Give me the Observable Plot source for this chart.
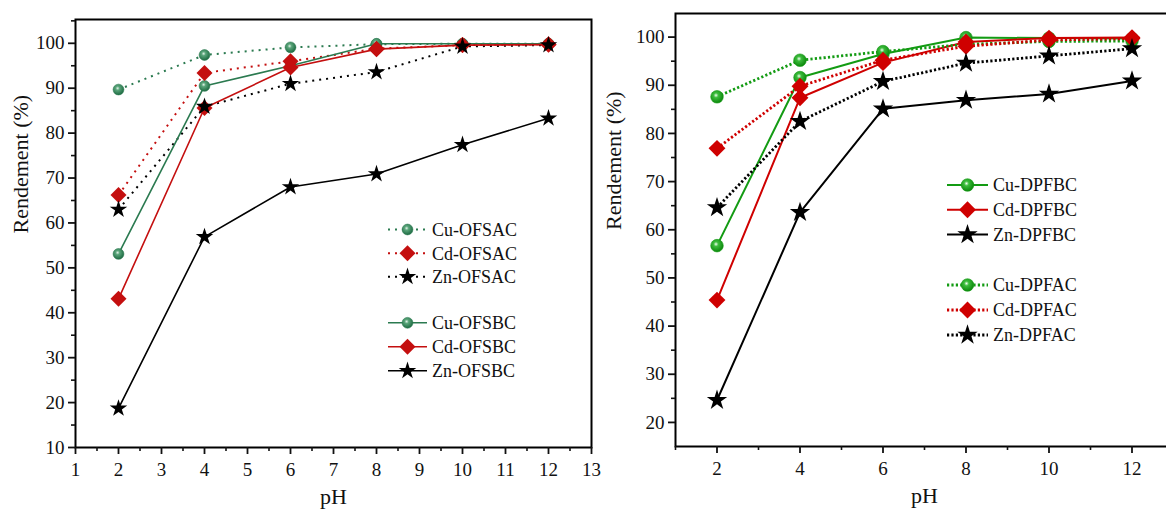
<!DOCTYPE html>
<html>
<head>
<meta charset="utf-8">
<script src="https://cdn.jsdelivr.net/npm/d3@7"></script>
<script src="https://cdn.jsdelivr.net/npm/@observablehq/plot@0.6"></script>
<style>
  html, body { margin: 0; padding: 0; background: #fff; overflow: hidden; }
  #wrap { position: relative; width: 1166px; height: 512px; overflow: hidden; background: #fff; }
  #wrap > svg { position: absolute; top: 0; overflow: visible; }
</style>
</head>
<body>
<div id="wrap"></div>
<script>
// ---- data: removal yield (%) versus pH ----
const pH = [2, 4, 6, 8, 10, 12];

// OFS adsorbents
const cuOFSAC = [89.7, 97.4, 99.1, 99.8, 99.9, 99.9];
const cdOFSAC = [66.2, 93.4, 96.0, 98.8, 99.6, 99.8];
const znOFSAC = [63.0, 85.9, 91.0, 93.6, 99.3, 99.6];
const cuOFSBC = [53.1, 90.5, 95.0, 99.9, 99.9, 99.9];
const cdOFSBC = [43.1, 85.6, 94.6, 98.7, 99.6, 99.7];
const znOFSBC = [18.7, 56.9, 68.0, 70.9, 77.4, 83.3];

// DPF adsorbents
const cuDPFAC = [87.6, 95.2, 97.0, 98.5, 99.1, 99.2];
const cdDPFAC = [76.9, 89.8, 95.2, 98.1, 99.4, 99.7];
const znDPFAC = [64.6, 82.5, 90.8, 94.6, 96.1, 97.6];
const cuDPFBC = [56.7, 91.6, 96.5, 99.9, 99.8, 99.7];
const cdDPFBC = [45.4, 87.4, 94.7, 99.0, 99.8, 99.9];
const znDPFBC = [24.6, 63.6, 85.1, 86.9, 88.2, 90.9];

const leftNames  = ["Cu-OFSAC", "Cd-OFSAC", "Zn-OFSAC", "Cu-OFSBC", "Cd-OFSBC", "Zn-OFSBC"];
const rightNames = ["Cu-DPFBC", "Cd-DPFBC", "Zn-DPFBC", "Cu-DPFAC", "Cd-DPFAC", "Zn-DPFAC"];

// axis ticks
const xTicksLeft  = [1, 2, 3, 4, 5, 6, 7, 8, 9, 10, 11, 12, 13];
const xMinorLeft  = [1.5, 2.5, 3.5, 4.5, 5.5, 6.5, 7.5, 8.5, 9.5, 10.5, 11.5, 12.5];
const yTicksLeft  = [10, 20, 30, 40, 50, 60, 70, 80, 90, 100];
const yMinorLeft  = [15, 25, 35, 45, 55, 65, 75, 85, 95, 105];
const xTicksRight = [2, 4, 6, 8, 10, 12];
const xMinorRight = [1, 3, 5, 7, 9, 11, 13];
const yTicksRight = [20, 30, 40, 50, 60, 70, 80, 90, 100];
const yMinorRight = [25, 35, 45, 55, 65, 75, 85, 95];

const xTitle = "pH";
const yTitle = "Rendement (%)";

// ---- styling ----
const FONT = "'Liberation Serif', 'Times New Roman', serif";
const TEXT = "#111";

function seriesOf(name, values) {
  return pH.map((x, i) => ({ x, y: values[i], name }));
}
const symbolFor = { Cu: "circle", Cd: "diamond2", Zn: "star" };
const d3Symbol = { circle: d3.symbolCircle, diamond2: d3.symbolDiamond2, star: d3.symbolStar };

function styleOf(name, theme) {
  const metal = name.slice(0, 2);
  const dotted = name.endsWith("AC");
  const color = metal === "Cu" ? theme.green : metal === "Cd" ? theme.red : "#000";
  return {
    color,
    symbol: symbolFor[metal],
    r: theme.r[metal],
    fill: metal === "Cu" ? `url(#${theme.gradId})` : color,
    dash: dotted ? theme.dotDash : null,
    width: dotted ? theme.dotWidth : theme.solidWidth
  };
}

function panel({ names, values, theme, width, left, margins, yDomain,
                 xTicks, xMinor, yTicks, yMinor, yTitleDx, legendRows, legendX }) {
  const series = names.map((n, i) => ({ name: n, data: seriesOf(n, values[i]), st: styleOf(n, theme) }));
  const marks = [];
  // connecting lines
  for (const s of series) {
    marks.push(Plot.line(s.data, {
      x: "x", y: "y", stroke: s.st.color, strokeWidth: s.st.width,
      strokeDasharray: s.st.dash ?? undefined, strokeLinecap: "butt"
    }));
  }
  // markers: circles, then diamonds, then stars on top
  for (const metal of ["Cu", "Cd", "Zn"]) {
    for (const s of series.filter(s => s.name.startsWith(metal))) {
      marks.push(Plot.dot(s.data, {
        x: "x", y: "y", symbol: s.st.symbol, r: s.st.r,
        fill: s.st.fill, stroke: metal === "Cu" ? s.st.color : "none", strokeWidth: 0.6
      }));
    }
  }
  marks.push(
    Plot.frame({ strokeWidth: 2, stroke: "#000" }),
    Plot.axisX(xTicks, { tickSize: 7, tickPadding: 8, strokeWidth: 1.8, label: null }),
    Plot.axisX(xMinor, { tickSize: 4, tickFormat: () => "", strokeWidth: 1.6, label: null }),
    Plot.axisY(yTicks, { tickSize: 7, tickPadding: 4, strokeWidth: 1.8, label: null }),
    Plot.axisY(yMinor, { tickSize: 4, tickFormat: () => "", strokeWidth: 1.6, label: null }),
    Plot.text([xTitle], { text: d => d, frameAnchor: "bottom", dy: 56, fontSize: 22, fill: TEXT }),
    Plot.text([yTitle], { text: d => d, frameAnchor: "left", dx: yTitleDx, rotate: -90, fontSize: 22, fill: TEXT })
  );

  const svg = Plot.plot({
    width, height: 512,
    marginTop: margins[0], marginRight: margins[1], marginBottom: margins[2], marginLeft: margins[3],
    x: { domain: [1, 13] },
    y: { domain: yDomain },
    style: { background: "transparent", fontFamily: FONT, fontSize: "19px", color: TEXT, overflow: "visible" },
    marks
  });
  svg.style.left = left + "px";

  // sphere-like shading for the Cu markers
  const defs = d3.select(svg).insert("defs", ":first-child");
  const g = defs.append("radialGradient").attr("id", theme.gradId)
    .attr("cx", "0.42").attr("cy", "0.38").attr("r", "0.62");
  theme.gradStops.forEach(([o, c]) => g.append("stop").attr("offset", o).attr("stop-color", c));

  // legend
  const lg = d3.select(svg).append("g")
    .attr("font-family", FONT).attr("font-size", 18).attr("fill", TEXT).attr("text-anchor", "start");
  series.forEach((s, i) => {
    const y = legendRows[i];
    lg.append("line").attr("x1", legendX[0]).attr("x2", legendX[1]).attr("y1", y).attr("y2", y)
      .attr("stroke", s.st.color).attr("stroke-width", s.st.width)
      .attr("stroke-dasharray", s.st.dash);
    const cx = (legendX[0] + legendX[1]) / 2;
    lg.append("path")
      .attr("d", d3.symbol(d3Symbol[s.st.symbol], Math.PI * s.st.r * s.st.r)())
      .attr("transform", `translate(${cx},${y})`)
      .attr("fill", s.st.fill)
      .attr("stroke", s.name.startsWith("Cu") ? s.st.color : "none").attr("stroke-width", 0.6);
    lg.append("text").attr("x", legendX[1] + 5).attr("y", y).attr("dy", "0.35em")
      .attr("text-anchor", "start").text(s.name);
  });
  return svg;
}

const wrap = document.getElementById("wrap");

wrap.appendChild(panel({
  names: leftNames,
  values: [cuOFSAC, cdOFSAC, znOFSAC, cuOFSBC, cdOFSBC, znOFSBC],
  theme: {
    green: "#2b7a50", red: "#c40f0f", gradId: "sphereL",
    gradStops: [["0", "#e2f2e8"], ["0.3", "#5aa57a"], ["1", "#1d6a42"]],
    r: { Cu: 5.4, Cd: 7.2, Zn: 5.5 },
    dotDash: "2,5", dotWidth: 2, solidWidth: 1.6
  },
  width: 600, left: 0, margins: [19, 9, 65, 75], yDomain: [10, 105.3],
  xTicks: xTicksLeft, xMinor: xMinorLeft, yTicks: yTicksLeft, yMinor: yMinorLeft,
  yTitleDx: -55,
  legendRows: [229.5, 253.2, 276.8, 322.8, 346.8, 370.8],
  legendX: [388, 427]
}));

wrap.appendChild(panel({
  names: rightNames,
  values: [cuDPFBC, cdDPFBC, znDPFBC, cuDPFAC, cdDPFAC, znDPFAC],
  theme: {
    green: "#139b13", red: "#cf0000", gradId: "sphereR",
    gradStops: [["0", "#f0fff0"], ["0.3", "#3cbc3c"], ["1", "#0b870b"]],
    r: { Cu: 6.3, Cd: 7.6, Zn: 6.4 },
    dotDash: "2.2,2.2", dotWidth: 2.8, solidWidth: 2
  },
  width: 580, left: 600, margins: [13, 7, 66, 75], yDomain: [15, 104.9],
  xTicks: xTicksRight, xMinor: xMinorRight, yTicks: yTicksRight, yMinor: yMinorRight,
  yTitleDx: -62,
  legendRows: [185, 209.8, 234.6, 285, 310, 335],
  legendX: [347, 388]
}));
</script>
</body>
</html>
